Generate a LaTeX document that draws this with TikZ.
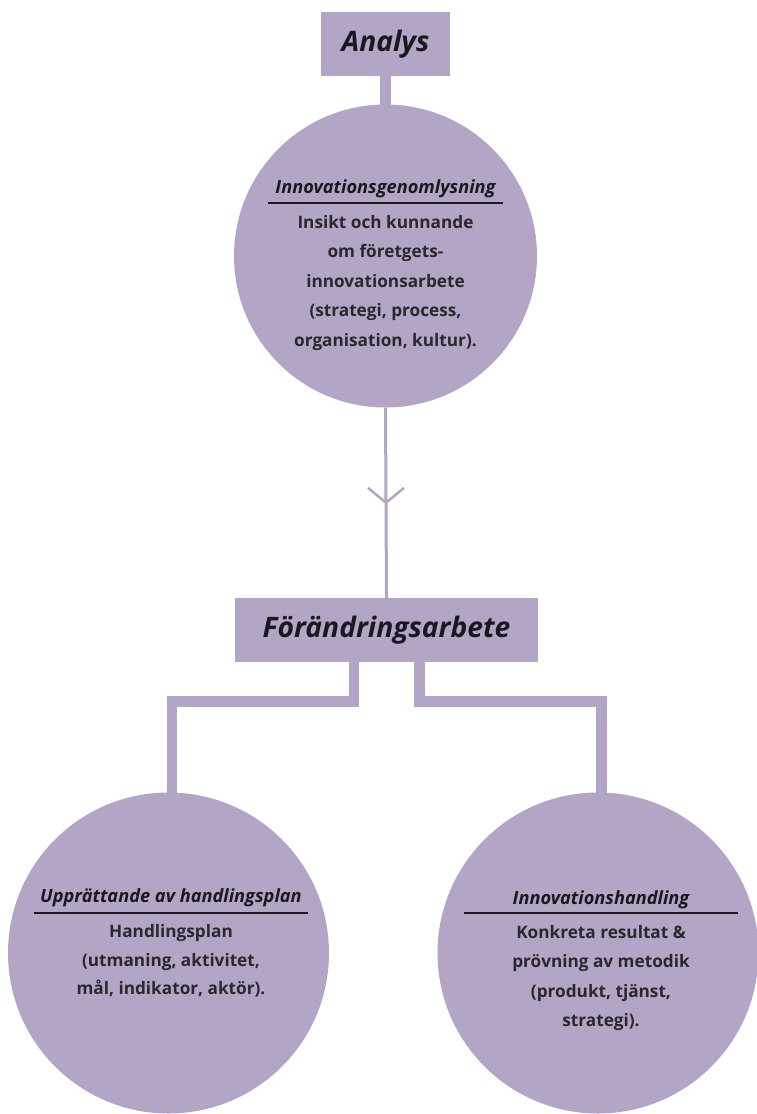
\documentclass[tikz,border=0pt]{standalone}
\usepackage{fontspec}
\setmainfont{Open Sans}
\newfontfamily\heavyital{Open Sans}[UprightFont={* Bold Italic}]
\usetikzlibrary{calc}
\definecolor{lilac}{HTML}{B3A5C6}
\definecolor{ink}{HTML}{1A181C}
\definecolor{bodyink}{HTML}{2A282C}
\tikzset{
  headbox/.style={fill=lilac, minimum width=#1, minimum height=64pt, inner sep=0pt,
    text=ink, font=\fontsize{28.2}{30}\selectfont\heavyital},
  disc/.style={circle, fill=lilac, minimum size=#1, inner sep=0pt},
  disctitle/.style={text=ink, font=\fontsize{18.2}{20}\selectfont\bfseries\itshape, inner sep=0pt},
  discbody/.style={text=bodyink, align=center, inner sep=0pt,
    font=\fontsize{17.2}{29.5}\selectfont\bfseries},
  rule/.style={line width=2pt, draw=ink},
  stem/.style={draw=lilac, line width=10.5pt, line join=miter},
  thin/.style={draw=lilac, line width=3pt},
}
\begin{document}
\begin{tikzpicture}[x=1pt, y=-1pt]
  \useasboundingbox (0,0) rectangle (757,1114);

  % boxes and discs
  \node[headbox=129pt] (analys) at (385.5,44) {Analys};
  \node[disc=303pt] (top) at (385.5,256) {};
  \node[headbox=303pt] (change) at (386.5,630) {Förändringsarbete};
  \node[disc=321pt] (left) at (168.5,953) {};
  \node[disc=321pt] (right) at (598,953) {};

  % connectors
  \draw[stem] ([yshift=1pt]analys.south) -- ([yshift=-3pt]top.north);
  \draw[thin] (top.south) -- (change.north);
  \coordinate (apex) at ($(top.south)!0.5!(change.north)$);
  \draw[thin, line width=2.5pt] ($(apex)+(-18,-15)$) -- (apex) -- ($(apex)+(18,-15)$);
  \draw[stem] ($(change.south)+(-32.5,-1)$) -- ++(0,40.5) -| ($(left.north)+(3.5,4)$);
  \draw[stem] ($(change.south)+(33,-1)$) -- ++(0,40.5) -| ($(right.north)+(3.5,4)$);

  % top disc text
  \node[disctitle] (t1) at (385.5,189) {Innovationsgenomlysning};
  \draw[rule] (268,203) -- (503,203);
  \node[discbody] (b1) at (385.5,283) {Insikt och kunnande\\om företgets-\\innovationsarbete\\(strategi, process,\\organisation, kultur).};

  % left disc text
  \node[disctitle] (t2) at (171,898) {Upprättande av handlingsplan};
  \draw[rule] (34,913) -- (308,913);
  \node[discbody, font=\fontsize{17.2}{28.5}\selectfont\bfseries] (b2) at (171,961) {Handlingsplan\\(utmaning, aktivitet,\\mål, indikator, aktör).};

  % right disc text
  \node[disctitle] (t3) at (601,900) {Innovationshandling};
  \draw[rule] (464,913) -- (738,913);
  \node[discbody] (b3) at (601,978) {Konkreta resultat \&\\prövning av metodik\\(produkt, tjänst,\\strategi).};
\end{tikzpicture}
\end{document}
